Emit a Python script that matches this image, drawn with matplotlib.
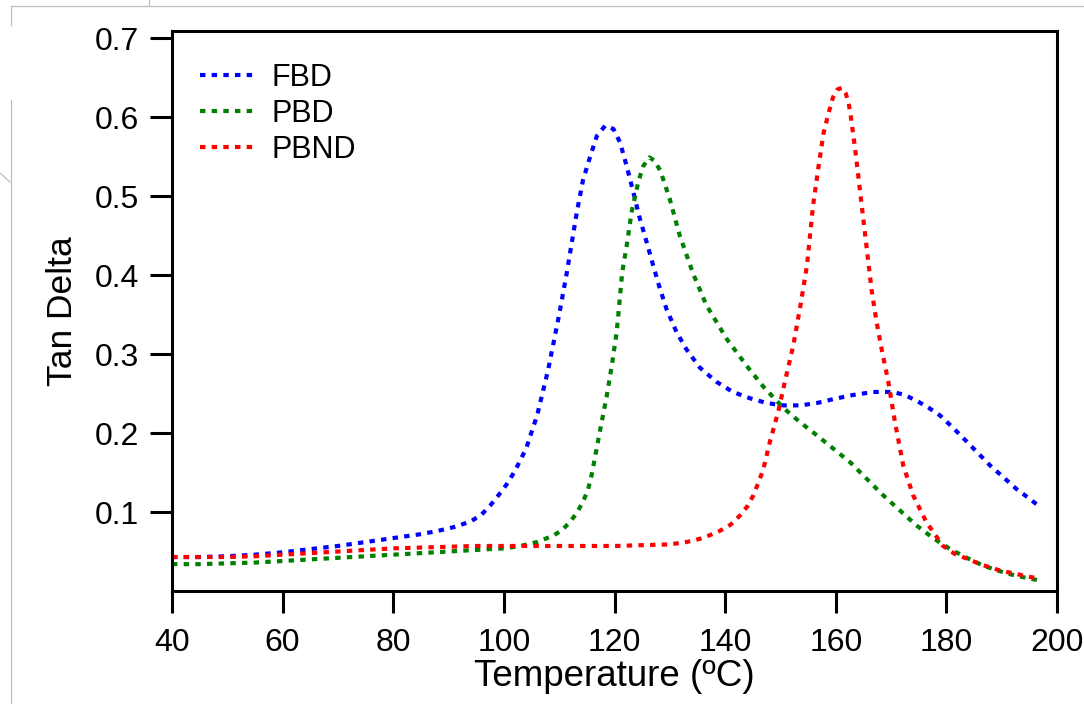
import numpy as np
import matplotlib
matplotlib.use("Agg")
import matplotlib.pyplot as plt
from matplotlib.lines import Line2D

plt.rcParams['font.family'] = ['Liberation Sans', 'DejaVu Sans']

# 数据
fbd_t = [40, 45, 50, 55, 60, 65, 70, 75, 80, 85, 88, 91, 94, 96, 97.5, 99, 100.5, 102, 104, 106,
         108, 110, 111.4, 112.3, 113.2, 114.3, 115.6, 116.8, 118.3, 119.8, 121, 122.2, 123.4, 124.6,
         125.8, 127, 128.2, 129.4, 131.2, 133, 135.4, 138.4, 141.4, 144.5, 147.5, 150.5, 153.6,
         156.6, 159.6, 163, 166.8, 170.4, 172.5, 174.6, 176.8, 178.9, 181.3, 183.7, 185.8, 187.9,
         190.3, 192.7, 195, 197]
fbd_tan = [0.043, 0.043, 0.044, 0.046, 0.049, 0.053, 0.057, 0.062, 0.067, 0.072, 0.076, 0.081,
           0.088, 0.097, 0.108, 0.121, 0.135, 0.152, 0.18, 0.222, 0.28, 0.35, 0.404, 0.442, 0.48,
           0.52, 0.55, 0.576, 0.589, 0.585, 0.568, 0.538, 0.505, 0.471, 0.442, 0.412, 0.383, 0.357,
           0.328, 0.306, 0.283, 0.265, 0.252, 0.244, 0.238, 0.235, 0.235, 0.238, 0.243, 0.248,
           0.252, 0.252, 0.248, 0.241, 0.232, 0.222, 0.206, 0.189, 0.174, 0.159, 0.144, 0.129,
           0.117, 0.106]

pbd_t = [40, 45, 50, 55, 60, 65, 70, 75, 80, 85, 90, 95, 100, 103, 106, 108.9, 110.5, 111.9, 113.2,
         114.3, 115.2, 115.9, 117.3, 118.6, 119.5, 120.4, 121.4, 122.2, 123.1, 124.3, 125.2, 126.3,
         127.2, 128.3, 130, 131.8, 134.2, 136.6, 140.3, 143.9, 147, 150.5, 153.5, 156.6, 159.6,
         162.6, 165.6, 168.6, 171.6, 174.6, 177.6, 180.7, 183.7, 186.7, 189.7, 192.7, 195, 197]
pbd_tan = [0.034, 0.034, 0.035, 0.036, 0.038, 0.040, 0.042, 0.044, 0.046, 0.048, 0.050, 0.052,
           0.054, 0.057, 0.062, 0.070, 0.077, 0.087, 0.099, 0.113, 0.128, 0.148, 0.2, 0.247, 0.285,
           0.328, 0.404, 0.437, 0.48, 0.518, 0.538, 0.549, 0.545, 0.532, 0.496, 0.450, 0.402, 0.362,
           0.319, 0.285, 0.258, 0.232, 0.214, 0.197, 0.180, 0.163, 0.142, 0.121, 0.102, 0.083,
           0.067, 0.053, 0.042, 0.032, 0.025, 0.019, 0.016, 0.013]

pbnd_t = [40, 45, 50, 55, 60, 65, 70, 75, 80, 85, 90, 95, 100, 110, 120, 125, 130, 133, 135.4, 137,
          139, 141, 142.6, 144, 145.1, 146, 146.9, 148.1, 149.6, 150.8, 152.3, 153.6, 154.8, 155.4,
          155.9, 156.9, 157.8, 158.7, 159.5, 160.3, 161.1, 161.8, 162.3, 162.7, 163.5, 164.5,
          165.5, 166.5, 167.4, 168.3, 169.5, 170.7, 172.2, 174, 176.4, 179.4, 181.5, 183.7, 186.5,
          189.7, 193, 195.7, 197]
pbnd_tan = [0.043, 0.043, 0.043, 0.044, 0.046, 0.048, 0.050, 0.052, 0.054, 0.055, 0.056, 0.057,
            0.057, 0.057, 0.057, 0.058, 0.059, 0.062, 0.066, 0.070, 0.076, 0.084, 0.095, 0.107,
            0.121, 0.137, 0.154, 0.189, 0.227, 0.265, 0.31, 0.361, 0.412, 0.454, 0.488, 0.538,
            0.58, 0.605, 0.625, 0.635, 0.637, 0.63, 0.619, 0.602, 0.56, 0.50, 0.44, 0.38, 0.34,
            0.306, 0.265, 0.214, 0.159, 0.121, 0.087, 0.057, 0.047, 0.041, 0.033, 0.026, 0.021,
            0.017, 0.016]

labels = ['FBD', 'PBD', 'PBND']
colors = ['#0000ff', '#008000', '#ff0000']

x_ticks = [40, 60, 80, 100, 120, 140, 160, 180, 200]
y_ticks = [0.1, 0.2, 0.3, 0.4, 0.5, 0.6, 0.7]

# 作图
fig = plt.figure(figsize=(10.84, 7.04), dpi=100)
ax = fig.add_axes([172 / 1084, 113 / 704, 885 / 1084, 560 / 704])

for t, v, lab, c in zip([fbd_t, pbd_t, pbnd_t], [fbd_tan, pbd_tan, pbnd_tan], labels, colors):
    ax.plot(t, v, color=c, lw=3.0, linestyle=(0, (1.3, 1.5)), label=lab)

ax.set_xlim(40, 200)
ax.set_ylim(0, 0.709)
ax.set_xticks(x_ticks)
ax.set_yticks(y_ticks)
ax.set_yticklabels(['%.1f' % v for v in y_ticks])

for s in ax.spines.values():
    s.set_linewidth(2.2)
ax.tick_params(direction='out', length=16, width=2.2, labelsize=23, color='black')
ax.tick_params(axis='x', pad=10.5)
ax.tick_params(axis='y', pad=8)

ax.set_xlabel('Temperature (ºC)', fontsize=26.5, labelpad=1)
ax.set_ylabel('Tan Delta', fontsize=25.5, labelpad=11)

ax.legend(loc='upper left', bbox_to_anchor=(0.0316, 0.943), frameon=False, fontsize=22,
          borderpad=0, borderaxespad=0, handlelength=1.85, handletextpad=0.5, labelspacing=0.19)

# 截图边缘的灰线
def gray_line(xs, ys):
    fig.add_artist(Line2D([x / 1084 for x in xs], [1 - y / 704 for y in ys],
                          transform=fig.transFigure, color='#bdbdbd', lw=0.9))

gray_line([10.7, 1084], [5.7, 5.7])
gray_line([149, 149], [0, 5.7])
gray_line([10.7, 10.7], [5.7, 25])
gray_line([10.7, 10.7], [100, 704])
gray_line([0, 10], [173, 182])

fig.savefig('out.png', dpi=100)
